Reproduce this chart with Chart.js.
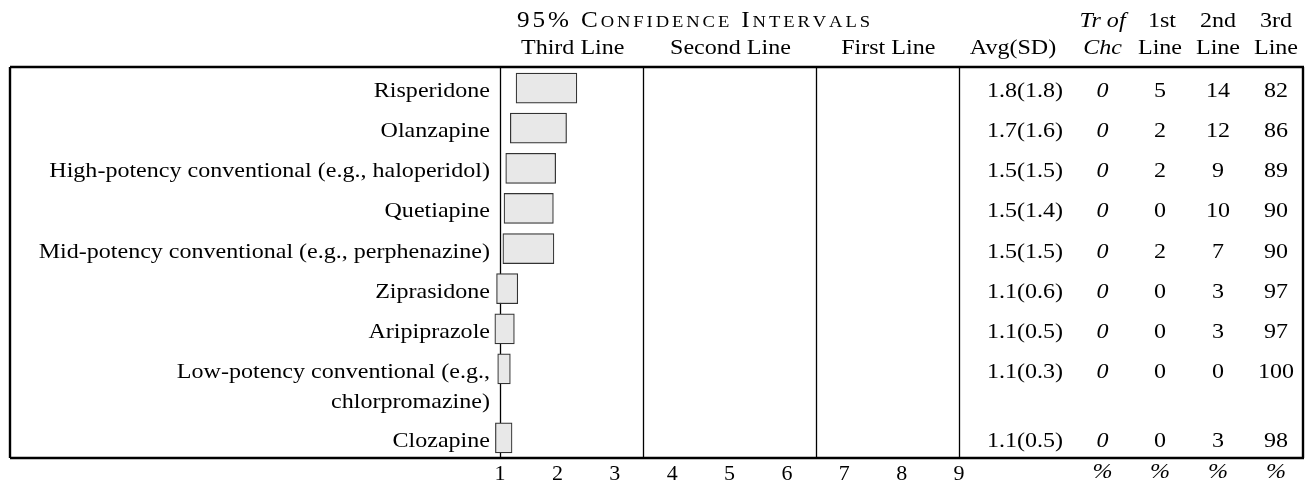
<!DOCTYPE html>
<html>
<head>
<meta charset="utf-8">
<script src="https://cdn.jsdelivr.net/npm/chart.js@4/dist/chart.umd.min.js"></script>
<style>
html,body{margin:0;padding:0;background:#fff;}
canvas{display:block;}
</style>
</head>
<body>
<canvas id="c" width="1310" height="482"></canvas>
<script>
// ---- data ----
const drugs = [
  'Risperidone',
  'Olanzapine',
  'High-potency conventional (e.g., haloperidol)',
  'Quetiapine',
  'Mid-potency conventional (e.g., perphenazine)',
  'Ziprasidone',
  'Aripiprazole',
  ['Low-potency conventional (e.g.,', 'chlorpromazine)'],
  'Clozapine'
];
const ciLow  = [1.28, 1.18, 1.10, 1.07, 1.05, 0.94, 0.91, 0.96, 0.92];
const ciHigh = [2.34, 2.16, 1.97, 1.93, 1.94, 1.31, 1.25, 1.18, 1.21];
const avgMean = ['1.8', '1.7', '1.5', '1.5', '1.5', '1.1', '1.1', '1.1', '1.1'];
const avgSD   = ['1.8', '1.6', '1.5', '1.4', '1.5', '0.6', '0.5', '0.3', '0.5'];
const trOfChc   = [0, 0, 0, 0, 0, 0, 0, 0, 0];
const firstLine = [5, 2, 2, 0, 2, 0, 0, 0, 0];
const secondLine= [14, 12, 9, 10, 7, 3, 3, 0, 3];
const thirdLine = [82, 86, 89, 90, 90, 97, 97, 100, 98];
const xTicks = [1, 2, 3, 4, 5, 6, 7, 8, 9];
const zoneBreaks = [3.5, 6.5];
const zoneLabels = ['Third Line', 'Second Line', 'First Line'];

// ---- layout helpers (row positions derived from label line count) ----
const EXTRA = 0.72;
const pos = [];
drugs.forEach((d, i) => {
  if (i === 0) pos.push(0);
  else {
    const prev = drugs[i - 1];
    const lines = Array.isArray(prev) ? prev.length : 1;
    pos.push(pos[i - 1] + 1 + EXTRA * (lines - 1));
  }
});

const FONT = '"Liberation Serif", "Times New Roman", serif';
const FS = 22;
const SX = 1.093;

function txt(ctx, s, x, y, opt) {
  opt = opt || {};
  const size = opt.size || FS;
  const sx = opt.sx || SX;
  ctx.save();
  ctx.font = (opt.italic ? 'italic ' : '') + size + 'px ' + FONT;
  ctx.fillStyle = '#000';
  ctx.textBaseline = opt.baseline || 'middle';
  ctx.textAlign = opt.align || 'center';
  ctx.translate(x, y);
  ctx.scale(sx, 1);
  ctx.fillText(s, 0, 0);
  ctx.restore();
}

const tablePlugin = {
  id: 'tablePlugin',
  beforeDatasetsDraw(chart) {
    const ctx = chart.ctx;
    const xs = chart.scales.x;
    const ca = chart.chartArea;
    ctx.save();
    ctx.strokeStyle = '#000';
    ctx.lineWidth = 1.3;
    [1, ...zoneBreaks, 9].forEach(v => {
      const px = Math.round(xs.getPixelForValue(v)) + 0.5;
      ctx.beginPath(); ctx.moveTo(px, ca.top); ctx.lineTo(px, ca.bottom); ctx.stroke();
    });
    ctx.restore();
  },
  afterDatasetsDraw(chart) {
    const ctx = chart.ctx;
    const xs = chart.scales.x, ys = chart.scales.y;
    const ca = chart.chartArea;
    const L = 10, R = 1304;
    ctx.save();
    ctx.strokeStyle = '#000';
    ctx.lineWidth = 2.4;
    ctx.beginPath();
    ctx.moveTo(L, ca.top); ctx.lineTo(R, ca.top);
    ctx.moveTo(L, ca.bottom); ctx.lineTo(R, ca.bottom);
    ctx.moveTo(L, ca.top); ctx.lineTo(L, ca.bottom);
    ctx.moveTo(R - 1, ca.top); ctx.lineTo(R - 1, ca.bottom);
    ctx.stroke();
    ctx.restore();

    // header: title in small caps with tracking
    const B = 23, S = 17;
    const titleParts = [
      ['9', B], ['5', B], ['%', B], [' ', B],
      ['C', B], ['O', S], ['N', S], ['F', S], ['I', S], ['D', S], ['E', S], ['N', S], ['C', S], ['E', S], [' ', B],
      ['I', B], ['N', S], ['T', S], ['E', S], ['R', S], ['V', S], ['A', S], ['L', S], ['S', S]
    ];
    const tStart = 517, tEnd = 870;
    ctx.save();
    let total = 0;
    const widths = titleParts.map(p => {
      ctx.font = p[1] + 'px ' + FONT;
      const w = ctx.measureText(p[0]).width * SX;
      total += w; return w;
    });
    const track = (tEnd - tStart - total) / (titleParts.length - 1);
    let cx = tStart;
    titleParts.forEach((p, i) => {
      txt(ctx, p[0], cx, 27, { size: p[1], align: 'left', baseline: 'alphabetic' });
      cx += widths[i] + track;
    });
    ctx.restore();

    // zone labels
    const edges = [1, ...zoneBreaks, 9];
    zoneLabels.forEach((s, i) => {
      const c = (xs.getPixelForValue(edges[i]) + xs.getPixelForValue(edges[i + 1])) / 2;
      txt(ctx, s, c + 1, 54, { baseline: 'alphabetic' });
    });

    // right table headers
    const colAvg = 1025, colTr = 1102.5, col1 = 1160, col2 = 1218, col3 = 1276;
    txt(ctx, 'Avg(SD)', 1013, 54, { baseline: 'alphabetic' });
    txt(ctx, 'Tr of', colTr, 27, { italic: true, baseline: 'alphabetic' });
    txt(ctx, 'Chc', colTr, 54, { italic: true, baseline: 'alphabetic' });
    txt(ctx, '1st', col1 + 2, 27, { baseline: 'alphabetic' });
    txt(ctx, 'Line', col1, 54, { baseline: 'alphabetic' });
    txt(ctx, '2nd', col2, 27, { baseline: 'alphabetic' });
    txt(ctx, 'Line', col2, 54, { baseline: 'alphabetic' });
    txt(ctx, '3rd', col3, 27, { baseline: 'alphabetic' });
    txt(ctx, 'Line', col3, 54, { baseline: 'alphabetic' });

    // rows
    drugs.forEach((d, i) => {
      const y = ys.getPixelForValue(pos[i]);
      const base = y + 9;
      const lines = Array.isArray(d) ? d : [d];
      lines.forEach((ln, k) => {
        txt(ctx, ln, 490, base + k * 30, { align: 'right', baseline: 'alphabetic' });
      });
      txt(ctx, avgMean[i] + '(' + avgSD[i] + ')', colAvg, base, { baseline: 'alphabetic' });
      txt(ctx, String(trOfChc[i]), colTr, base, { italic: true, baseline: 'alphabetic' });
      txt(ctx, String(firstLine[i]), col1, base, { baseline: 'alphabetic' });
      txt(ctx, String(secondLine[i]), col2, base, { baseline: 'alphabetic' });
      txt(ctx, String(thirdLine[i]), col3, base, { baseline: 'alphabetic' });
    });

    // percent row below axis
    [colTr, col1, col2, col3].forEach(c => {
      txt(ctx, '%', c, 478, { italic: true, baseline: 'alphabetic' });
    });
  }
};

const ctx = document.getElementById('c').getContext('2d');
new Chart(ctx, {
  type: 'bar',
  data: {
    datasets: [{
      data: drugs.map((d, i) => ({ x: [ciLow[i], ciHigh[i]], y: pos[i] })),
      backgroundColor: '#e8e8e8',
      borderColor: '#333',
      borderWidth: 1.2,
      borderSkipped: false,
      barThickness: 30,
      clip: false
    }]
  },
  options: {
    indexAxis: 'y',
    responsive: false,
    animation: false,
    devicePixelRatio: 1,
    layout: { padding: { left: 500, right: 351, top: 67, bottom: 0 } },
    plugins: { legend: { display: false }, tooltip: { enabled: false } },
    scales: {
      x: {
        type: 'linear',
        min: 1, max: 9,
        afterBuildTicks(scale) { scale.ticks = xTicks.map(v => ({ value: v })); },
        afterFit(scale) { scale.height = 24; },
        ticks: { color: '#000', padding: 3, font: { family: '"Liberation Serif"', size: 22 } },
        grid: { display: false, drawTicks: false },
        border: { display: false }
      },
      y: {
        type: 'linear',
        reverse: true,
        offset: false,
        min: -0.525,
        max: pos[pos.length - 1] + 0.5,
        display: false
      }
    }
  },
  plugins: [tablePlugin]
});
</script>
</body>
</html>
